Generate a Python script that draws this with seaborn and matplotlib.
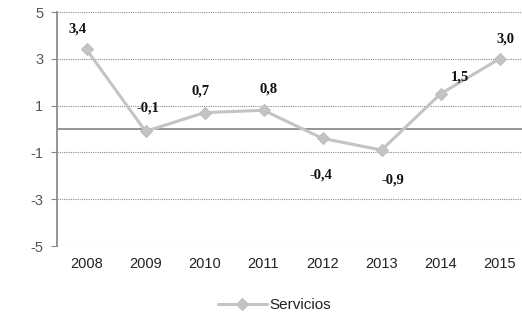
import pandas as pd
import seaborn as sns
import matplotlib.pyplot as plt

years = ['2008', '2009', '2010', '2011', '2012', '2013', '2014', '2015']
servicios = [3.4, -0.1, 0.7, 0.8, -0.4, -0.9, 1.5, 3.0]
etiquetas = ['3,4', '-0,1', '0,7', '0,8', '-0,4', '-0,9', '1,5', '3,0']
y_ticks = [-5, -3, -1, 1, 3, 5]

sns.set_style('white')
plt.rcParams['font.family'] = ['Liberation Sans', 'DejaVu Sans']

df = pd.DataFrame({'year': years, 'Servicios': servicios})

fig = plt.figure(figsize=(5.22, 3.22), dpi=100)
ax = fig.add_axes([57 / 522, 76 / 322, 472 / 522, 234 / 322])

sns.lineplot(data=df, x='year', y='Servicios', ax=ax, color='#c4c4c4',
             linewidth=2.2, marker='D', markersize=6.5, markeredgecolor='#bdbdbd',
             label='Servicios', sort=False)

ax.set_xlim(-0.5, len(years) - 0.5)
ax.set_ylim(-5, 5)
ax.set_yticks(y_ticks)
ax.set_yticklabels([str(t) for t in y_ticks])
for t in y_ticks:
    ax.axhline(t, color='#8c8c8c', linestyle=(0, (1, 1)), linewidth=0.8, zorder=0)
ax.axhline(0, color='#8c8c8c', linewidth=1.3, zorder=1)

for s in ['top', 'right', 'bottom']:
    ax.spines[s].set_visible(False)
ax.spines['left'].set_color('#8c8c8c')
ax.spines['left'].set_linewidth(1.3)
ax.tick_params(axis='y', length=4, color='#8c8c8c', labelcolor='#555555', labelsize=10.5, pad=6, left=True)
ax.tick_params(axis='x', length=0, labelcolor='#222222', labelsize=10.5, pad=8)
ax.set_xlabel('')
ax.set_ylabel('')

# desplazamiento de cada etiqueta respecto a su marcador, en pixeles (dx, dy hacia arriba)
offsets_px = [(-9, 20), (2, 23), (-4, 22), (5, 21), (-2, -37), (11, -30), (19, 17), (6, 20)]
for i, (v, lab) in enumerate(zip(servicios, etiquetas)):
    dx, dy = offsets_px[i]
    ax.annotate(lab, (i, v), xytext=(dx * 0.72, dy * 0.72), textcoords='offset points',
                ha='center', va='center', fontsize=10.5, fontweight='bold',
                family=['Liberation Serif', 'DejaVu Serif'], color='#111111',
                annotation_clip=False)

leg = ax.legend(loc='upper center', bbox_to_anchor=(0.46, -0.165), frameon=False,
                fontsize=11, handlelength=3.2, handletextpad=0.15)
for txt in leg.get_texts():
    txt.set_color('#222222')

fig.savefig('out.png', dpi=100)
